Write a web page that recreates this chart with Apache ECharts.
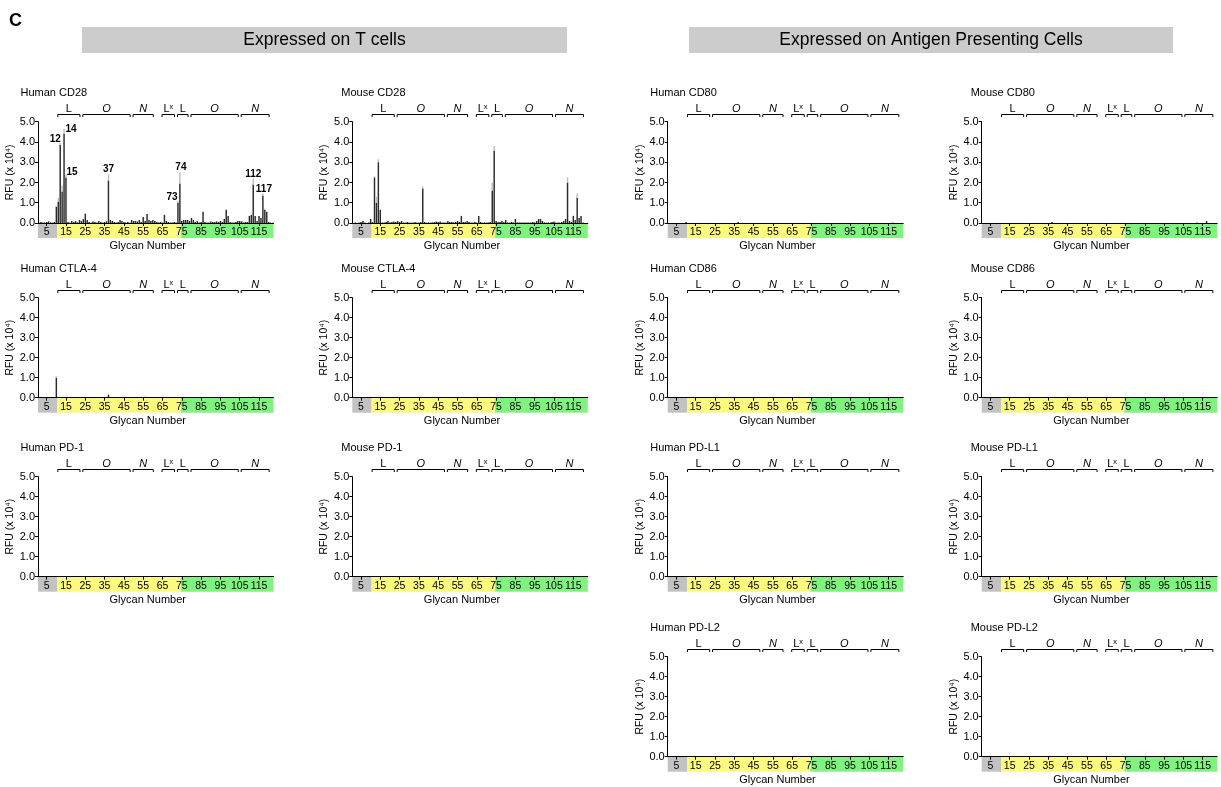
<!DOCTYPE html>
<html>
<head>
<meta charset="utf-8">
<script src="https://cdn.jsdelivr.net/npm/echarts@6/dist/echarts.min.js"></script>
<style>
  html, body { margin: 0; padding: 0; background: #fff; }
  #chart { width: 1221px; height: 787px; }
</style>
</head>
<body>
<div id="chart"></div>
<script>
// glycan array: 122 glycans, tick labels every 10 starting at 5
const glycanCount = 122;
const glycans = [];
for (let i = 1; i <= glycanCount; i++) glycans.push(String(i));
const tickGlycans = [5, 15, 25, 35, 45, 55, 65, 75, 85, 95, 105, 115];

// coloured band under the axis (controls / yellow / green)
const bandStart = [1, 11, 75];
const bandEnd = [10, 74, 122];
const bandColors = ['#c2c2c2', '#fcf97f', '#80f27e'];

// glycan class brackets above each plot
const bracketNames = ['L', 'O', 'N', 'Lˣ', 'L', 'O', 'N'];
const bracketFrom = [11, 24, 50, 65, 73, 80, 106];
const bracketTo = [22, 48, 60, 71, 78, 104, 120];

// RFU (x 10^4), one value per glycan
const humanCD28 = [
  0.02, 0.05, 0.03, 0.02, 0.05, 0.08, 0.03, 0.02, 0.05, 0.8,
  1.05, 3.85, 1.55, 4.4, 2.25, 0.05, 0.03, 0.1, 0.05, 0.1,
  0.03, 0.15, 0.1, 0.2, 0.45, 0.15, 0.05, 0.03, 0.08, 0.05,
  0.03, 0.1, 0.05, 0.02, 0.05, 0.08, 2.1, 0.15, 0.1, 0.05,
  0.03, 0.05, 0.15, 0.1, 0.05, 0.03, 0.05, 0.02, 0.15, 0.1,
  0.1, 0.08, 0.15, 0.05, 0.3, 0.1, 0.45, 0.15, 0.1, 0.15,
  0.1, 0.05, 0.03, 0.05, 0.02, 0.4, 0.1, 0.05, 0.03, 0.02,
  0.05, 0.03, 1.0, 1.95, 0.1, 0.15, 0.15, 0.15, 0.1, 0.25,
  0.15, 0.05, 0.1, 0.03, 0.05, 0.55, 0.05, 0.03, 0.02, 0.08,
  0.05, 0.05, 0.08, 0.05, 0.1, 0.05, 0.2, 0.65, 0.35, 0.05,
  0.03, 0.02, 0.05, 0.1, 0.1, 0.08, 0.03, 0.05, 0.05, 0.35,
  0.4, 1.9, 0.35, 0.1, 0.35, 0.25, 1.35, 0.65, 0.55, 0.05,
  0.02, 0.02
];
const humanCD28Err = [[10, 0.05], [11, 0.2], [12, 0.1], [13, 0.3], [14, 0.25], [15, 0.15],
  [25, 0.05], [37, 0.3], [73, 0.1], [74, 0.55], [112, 0.3], [117, 0.1], [118, 0.05]];
const humanCD28Peaks = [12, 14, 15, 37, 73, 74, 112, 117];

const mouseCD28 = [
  0, 0.02, 0, 0.02, 0.05, 0.1, 0.02, 0, 0.03, 0.2,
  0.05, 2.25, 1.0, 3.0, 0.65, 0.03, 0.02, 0.05, 0.1, 0.03,
  0.05, 0.08, 0.05, 0.1, 0.05, 0.1, 0.03, 0.02, 0.05, 0.03,
  0.02, 0.03, 0.05, 0.02, 0.03, 0.05, 1.7, 0.05, 0.02, 0.03,
  0.02, 0.03, 0.05, 0.08, 0.05, 0.08, 0.02, 0.03, 0.02, 0.1,
  0.05, 0.05, 0.03, 0.05, 0.1, 0.05, 0.35, 0.05, 0.05, 0.1,
  0.05, 0.03, 0.02, 0.05, 0.03, 0.35, 0.05, 0.02, 0.03, 0.02,
  0.03, 0.05, 1.6, 3.55, 0.1, 0.05, 0.05, 0.1, 0.05, 0.15,
  0.03, 0.02, 0.05, 0.03, 0.2, 0.03, 0.02, 0.03, 0.02, 0.03,
  0.02, 0.03, 0.02, 0.05, 0.03, 0.1, 0.2, 0.2, 0.1, 0.03,
  0.02, 0.03, 0.02, 0.05, 0.08, 0.03, 0.02, 0.03, 0.05, 0.1,
  0.2, 2.0, 0.1, 0.05, 0.35, 0.15, 1.25, 0.25, 0.35, 0.02,
  0, 0
];
const mouseCD28Err = [[12, 0.05], [13, 0.3], [14, 0.15], [37, 0.1], [73, 0.4], [74, 0.25],
  [112, 0.25], [117, 0.2]];

// near-empty panels: [glycan, RFU] for the few visible bars, others ~0
const humanCTLA4 = [[10, 1.0], [37, 0.15], [56, 0.05], [112, 0.05], [117, 0.03]];
const humanCTLA4Err = [[10, 0.08]];
const mouseCTLA4 = [[10, 0.04], [37, 0.03]];
const humanPD1 = [[37, 0.03], [112, 0.02]];
const mousePD1 = [[10, 0.03], [37, 0.03]];
const humanCD80 = [[10, 0.05], [37, 0.05], [117, 0.02]];
const mouseCD80 = [[37, 0.05], [112, 0.03], [117, 0.1]];
const humanCD86 = [[10, 0.02], [37, 0.02]];
const mouseCD86 = [[37, 0.02]];
const humanPDL1 = [[10, 0.02], [37, 0.02]];
const mousePDL1 = [[37, 0.02]];
const humanPDL2 = [[37, 0.02]];
const mousePDL2 = [[37, 0.02]];

function fromPairs(pairs) {
  const arr = new Array(glycanCount).fill(0);
  pairs.forEach(p => { arr[p[0] - 1] = p[1]; });
  return arr;
}

// layout
const colX = [38, 352.3, 667.7, 981.7];
const titleShift = [-17.5, -11, -17.5, -11];
const rowTop = [121.7, 297.7, 476.7, 656.7];
const rowH = [101.3, 100, 100, 100];
const plotW = 235.5;
const bandH = 15;

const panels = [
  { title: 'Human CD28', col: 0, row: 0, values: humanCD28, errors: humanCD28Err, peaks: humanCD28Peaks },
  { title: 'Human CTLA-4', col: 0, row: 1, values: fromPairs(humanCTLA4), errors: humanCTLA4Err },
  { title: 'Human PD-1', col: 0, row: 2, values: fromPairs(humanPD1) },
  { title: 'Mouse CD28', col: 1, row: 0, values: mouseCD28, errors: mouseCD28Err },
  { title: 'Mouse CTLA-4', col: 1, row: 1, values: fromPairs(mouseCTLA4) },
  { title: 'Mouse PD-1', col: 1, row: 2, values: fromPairs(mousePD1) },
  { title: 'Human CD80', col: 2, row: 0, values: fromPairs(humanCD80) },
  { title: 'Human CD86', col: 2, row: 1, values: fromPairs(humanCD86) },
  { title: 'Human PD-L1', col: 2, row: 2, values: fromPairs(humanPDL1) },
  { title: 'Human PD-L2', col: 2, row: 3, values: fromPairs(humanPDL2) },
  { title: 'Mouse CD80', col: 3, row: 0, values: fromPairs(mouseCD80) },
  { title: 'Mouse CD86', col: 3, row: 1, values: fromPairs(mouseCD86) },
  { title: 'Mouse PD-L1', col: 3, row: 2, values: fromPairs(mousePDL1) },
  { title: 'Mouse PD-L2', col: 3, row: 3, values: fromPairs(mousePDL2) }
];

// where each peak number sits relative to the top of its bar
const peakOffset = { 12: [-5, 2], 14: [7, 6], 15: [6, 4], 37: [0, 1], 73: [-6, 3], 74: [1, 1], 112: [0, 2], 117: [1, 2] };

const FONT = '"Liberation Sans", Arial, Helvetica, sans-serif';
const isTick = (index) => tickGlycans.indexOf(index + 1) !== -1;

function renderBand(params, api) {
  const a = api.coord([api.value(0), 0]);
  const b = api.coord([api.value(1), 0]);
  const half = api.size([1, 0])[0] / 2;
  return {
    type: 'rect',
    shape: { x: a[0] - half, y: a[1], width: b[0] - a[0] + 2 * half, height: bandH },
    style: { fill: bandColors[params.dataIndex] }
  };
}

function renderBracket(params, api) {
  const i = params.dataIndex;
  const a = api.coord([api.value(0), 5]);
  const b = api.coord([api.value(1), 5]);
  const half = api.size([1, 0])[0] / 2;
  const x1 = a[0] - half + 0.5;
  const x2 = b[0] + half - 0.5;
  const y = Math.round(a[1] - 7.5) + 0.5;
  const name = bracketNames[i];
  return {
    type: 'group',
    children: [
      { type: 'polyline', shape: { points: [[x1, y + 2.5], [x1, y], [x2, y], [x2, y + 2.5]] },
        style: { stroke: '#000', lineWidth: 1, fill: null } },
      { type: 'text', x: (x1 + x2) / 2, y: y - 0.5,
        style: { text: name, align: 'center', verticalAlign: 'bottom', fontSize: 11,
          fontFamily: FONT, fill: '#000', fontStyle: (name === 'O' || name === 'N') ? 'italic' : 'normal' } }
    ]
  };
}

const grid = [], xAxis = [], yAxis = [], series = [], graphic = [];

panels.forEach((p, k) => {
  const left = colX[p.col], top = rowTop[p.row], h = rowH[p.row];
  grid.push({ left: left, top: top, width: plotW, height: h });
  xAxis.push({
    type: 'category', gridIndex: k, data: glycans, z: 10,
    axisLine: { lineStyle: { color: '#000', width: 1 } },
    axisTick: { show: true, alignWithLabel: true, interval: isTick, length: 3, lineStyle: { color: '#000' } },
    axisLabel: { show: true, interval: isTick, margin: 3.5, fontSize: 10.5, color: '#000', fontFamily: FONT },
    splitLine: { show: false },
    name: 'Glycan Number', nameLocation: 'middle', nameGap: 17.5,
    nameTextStyle: { fontSize: 11, color: '#000', fontFamily: FONT, padding: [0, 16, 0, 0] }
  });
  yAxis.push({
    type: 'value', gridIndex: k, min: 0, max: 5, interval: 1,
    axisLine: { show: true, lineStyle: { color: '#000', width: 1 } },
    axisTick: { show: true, length: 3, lineStyle: { color: '#000' } },
    axisLabel: { formatter: v => v.toFixed(1), fontSize: 11, margin: 3, color: '#000', fontFamily: FONT },
    splitLine: { show: false },
    name: 'RFU (x 10⁴)', nameLocation: 'middle', nameGap: 22,
    nameTextStyle: { fontSize: 10.5, color: '#000', fontFamily: FONT }
  });

  series.push({
    type: 'custom', xAxisIndex: k, yAxisIndex: k, z: 1, silent: true,
    renderItem: renderBand, encode: { x: [0, 1], y: 2 },
    data: bandStart.map((s, i) => [s - 1, bandEnd[i] - 1, 0])
  });
  series.push({
    type: 'custom', xAxisIndex: k, yAxisIndex: k, z: 3, silent: true,
    renderItem: renderBracket, encode: { x: [0, 1], y: 2 },
    data: bracketFrom.map((s, i) => [s - 1, bracketTo[i] - 1, 5])
  });

  const err = fromPairs(p.errors || []);
  const peaks = p.peaks || [];
  series.push({
    type: 'bar', xAxisIndex: k, yAxisIndex: k, stack: 's' + k, z: 2,
    barCategoryGap: '25%', data: p.values,
    itemStyle: { color: '#2a2a2a' }
  });
  series.push({
    type: 'bar', xAxisIndex: k, yAxisIndex: k, stack: 's' + k, z: 2,
    barCategoryGap: '25%',
    itemStyle: { color: '#bdbdbd' },
    data: err.map((e, i) => {
      const g = i + 1;
      if (peaks.indexOf(g) === -1) return e;
      return {
        value: e,
        label: { show: true, position: 'top', distance: 1, offset: peakOffset[g] || [0, 0],
          formatter: String(g), fontSize: 10, fontWeight: 'bold', color: '#000', fontFamily: FONT }
      };
    })
  });

  graphic.push({
    type: 'text', left: left + titleShift[p.col], top: top - 34,
    style: { text: p.title, fontSize: 11, fontFamily: FONT, fill: '#000' }
  });
});

// headers
graphic.push({ type: 'text', left: 9, top: 12, style: { text: 'C', fontSize: 18, fontWeight: 'bold', fontFamily: FONT, fill: '#000' } });
graphic.push({ type: 'rect', shape: { x: 82, y: 27, width: 485, height: 26 }, style: { fill: '#cccccc' } });
graphic.push({ type: 'text', x: 324.5, y: 40.5, style: { text: 'Expressed on T cells', fontSize: 17.5, fontFamily: FONT, fill: '#000', align: 'center', verticalAlign: 'middle' } });
graphic.push({ type: 'rect', shape: { x: 689, y: 27, width: 484, height: 26 }, style: { fill: '#cccccc' } });
graphic.push({ type: 'text', x: 931, y: 40.5, style: { text: 'Expressed on Antigen Presenting Cells', fontSize: 17.5, fontFamily: FONT, fill: '#000', align: 'center', verticalAlign: 'middle' } });

const chart = echarts.init(document.getElementById('chart'));
chart.setOption({
  animation: false,
  backgroundColor: '#fff',
  textStyle: { fontFamily: FONT },
  grid: grid,
  xAxis: xAxis,
  yAxis: yAxis,
  series: series,
  graphic: graphic
});
</script>
</body>
</html>
